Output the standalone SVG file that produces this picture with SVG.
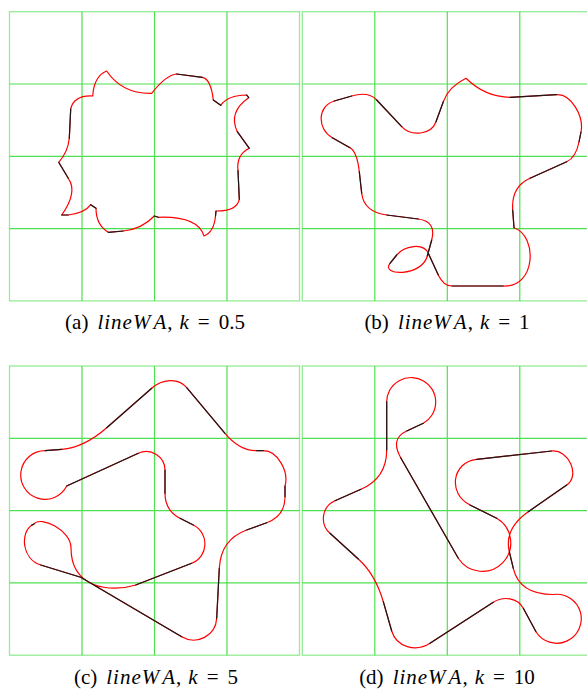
<svg xmlns="http://www.w3.org/2000/svg" xmlns:xlink="http://www.w3.org/1999/xlink" width="587" height="689" viewBox="0 0 587 689">
<style>
.gb{fill:none;stroke:#95ec95;stroke-width:1.3}
.gl{fill:none;stroke:#4fe04f;stroke-width:1.2}
.rd{fill:none;stroke:#ff0000;stroke-width:1.2;stroke-linejoin:round}
.bk{fill:none;stroke:#1a1a1a;stroke-width:1.2;stroke-linecap:round}
.cap{font-family:"Liberation Serif","Times New Roman",serif;font-size:21px;fill:#000;text-anchor:middle}
.it{font-style:italic}
.ls{letter-spacing:1px}
</style>
<defs>
<g id="grid">
<rect class="gb" x="0" y="0" width="290" height="289.2"/>
<path class="gl" d="M72.5,0V289.2M145,0V289.2M217.5,0V289.2M0,72.3H290M0,144.6H290M0,216.9H290"/>
</g>
</defs>
<g id="grids">
<use xlink:href="#grid" x="9.5" y="11.7"/>
<use xlink:href="#grid" x="302.3" y="11.7"/>
<use xlink:href="#grid" x="9.5" y="366"/>
<use xlink:href="#grid" x="302.3" y="366"/>
</g>
<g id="curve-a">
<path class="rd" d="M106.7,71 Q122,94 151.7,93.3 Q166,75 176.7,74 L202.3,77.3 Q211,79 213.3,100 L220.7,105.3 Q228,95 246.7,95 L248.7,97.7 Q228,112 237.3,131.7 L249.3,148.3 Q236,155 238,170.7 L239.3,199.3 Q237,211 216,211 L215.5,216 Q214,232 204,236 Q198,216 158.3,217.3 L154.3,216 Q142,229 123.3,231 L108.3,232.3 Q96,225 96,208.3 L90.7,204.7 Q85,213 68.3,215 L61.7,215 Q78,192 68.3,178.3 L58.7,162.3 Q68,152 69.3,138.3 L70.7,109 Q74,95 92.7,96 Q94,76 106.7,71 Z"/>
<path class="bk" d="M176.7,74L202.3,77.3M213.3,100L220.7,105.3M246.7,95L248.7,97.7M237.3,131.7L249.3,148.3M238,170.7L239.3,199.3M216,211L215.5,216M158.3,217.3L154.3,216M123.3,231L108.3,232.3M96,208.3L90.7,204.7M68.3,215L61.7,215M68.3,178.3L58.7,162.3M69.3,138.3L70.7,109"/>
</g>
<g id="curve-b">
<path class="rd" d="M466,78.3 Q485,97 510,97.3 L556.7,94.7 C571.7,93.9 584,117 581,132 L579,142 Q575.9,157.6 566.7,161.7 L530,178.3 Q511.1,186.8 512.7,210 L514,227.7 C538,236 536,288 503.3,286 L452,286 Q443.4,286 438.3,275 L428.3,253.3 C423.3,242.4 404.3,245.6 396.7,255 L390,263.3 C379.9,275.8 421.6,277.3 427.3,256 L431.7,240 Q436.6,221.4 418.3,219 L386.7,215 Q363.8,212 361.7,193.3 L359.3,171.7 Q357.1,151.7 350,147.7 L332.3,137.7 C316.9,129 317.3,106 334.3,101 L351.7,96 Q368.4,91.1 376.7,100 L401.7,126.7 C411.2,136.9 431.2,134.9 436,121.7 L443.3,101.7 Q448.7,86.7 466,78.3 Z"/>
<path class="bk" d="M510,97.3L556.7,94.7M581,132L579,142M566.7,161.7L530,178.3M512.7,210L514,227.7M503.3,286L452,286M438.3,275L428.3,253.3M396.7,255L390,263.3M427.3,256L431.7,240M418.3,219L386.7,215M361.7,193.3L359.3,171.7M350,147.7L332.3,137.7M334.3,101L351.7,96M376.7,100L401.7,126.7M436,121.7L443.3,101.7"/>
</g>
<g id="curve-c">
<path class="rd" d="M151.7,388.3 C162,379.3 177.9,377.2 186.7,387.7 L225,433.3 Q239.5,450.7 256.7,450.7 L263.3,450.7 C278,450.7 289,472 285,486 L285,496.7 Q285,516.1 266.7,522.7 L246.7,530 Q220.8,539.4 219.3,568.3 L216.7,618.3 C215.8,635.8 196.7,645.6 181.7,636.7 L80.7,577.3 L40.7,565 C22,559 20,533 31.7,525.3 L34,524 C40.4,515.5 71,530 71,548 C71,588 110,593 135.7,585 L191.7,563.3 C208.6,556.7 209.5,533.2 193.3,525 L180,518.3 Q165,510.7 165,493.3 L165,470 C165,456.4 150.7,447.7 138.3,453.3 L66.7,486 A24.3,24.3 0 1 1 45,450.7 L61.7,449.3 Q84.2,447.5 106.7,427.7 L151.7,388.3 Z"/>
<path class="bk" d="M186.7,387.7L225,433.3M256.7,450.7L263.3,450.7M285,486L285,496.7M266.7,522.7L246.7,530M219.3,568.3L216.7,618.3M181.7,636.7L80.7,577.3L40.7,565M31.7,525.3L34,524M135.7,585L191.7,563.3M193.3,525L180,518.3M165,493.3L165,470M138.3,453.3L66.7,486M45,450.7L61.7,449.3M106.7,427.7L151.7,388.3"/>
</g>
<g id="curve-d">
<path class="rd" d="M386.7,401.7 A24.5,24.5 0 1 1 423.3,423.3 L406.7,431 Q389.9,438.8 400.7,457.7 L458.3,558.3 A28.5,28.5 0 1 0 496.7,518.3 L470,505 C447.5,494 451.9,462 476.7,459.3 L551.7,451 C568.6,449.1 580.6,475.3 566.7,485 L528.3,511.7 Q503.9,528.7 509.3,551.7 L513.3,568.3 Q519.5,594.5 553.3,594.5 A24.5,24.5 0 1 1 536,631.7 L523.3,608.3 C517.5,597.7 503.4,595.8 493.3,602.3 L430,643.3 C415.9,652.4 396.4,647.1 391.7,631 L383.3,601.7 Q375.3,574.3 358.3,559 L330,533.3 C319.4,523.7 321.8,506.4 335,500.7 L361,489.3 Q386.7,478.1 386.7,450 Z"/>
<path class="bk" d="M423.3,423.3L406.7,431M400.7,457.7L458.3,558.3M496.7,518.3L470,505M476.7,459.3L551.7,451M566.7,485L528.3,511.7M509.3,551.7L513.3,568.3M536,631.7L523.3,608.3M493.3,602.3L430,643.3M391.7,631L383.3,601.7M358.3,559L330,533.3M335,500.7L361,489.3M386.7,450L386.7,401.7"/>
</g>
<g id="captions">
<text class="cap" x="155" y="329">(a)<tspan class="it ls" dx="9">lineW</tspan><tspan class="it" dx="2">A</tspan><tspan dx="1">,</tspan><tspan class="it" dx="7">k</tspan><tspan dx="9">=</tspan><tspan dx="9">0.5</tspan></text>
<text class="cap" x="447" y="329">(b)<tspan class="it ls" dx="9">lineW</tspan><tspan class="it" dx="2">A</tspan><tspan dx="1">,</tspan><tspan class="it" dx="7">k</tspan><tspan dx="9">=</tspan><tspan dx="9">1</tspan></text>
<text class="cap" x="156" y="684">(c)<tspan class="it ls" dx="9">lineW</tspan><tspan class="it" dx="2">A</tspan><tspan dx="1">,</tspan><tspan class="it" dx="7">k</tspan><tspan dx="9">=</tspan><tspan dx="9">5</tspan></text>
<text class="cap" x="447" y="684">(d)<tspan class="it ls" dx="9">lineW</tspan><tspan class="it" dx="2">A</tspan><tspan dx="1">,</tspan><tspan class="it" dx="7">k</tspan><tspan dx="9">=</tspan><tspan dx="9">10</tspan></text>
</g>
</svg>
